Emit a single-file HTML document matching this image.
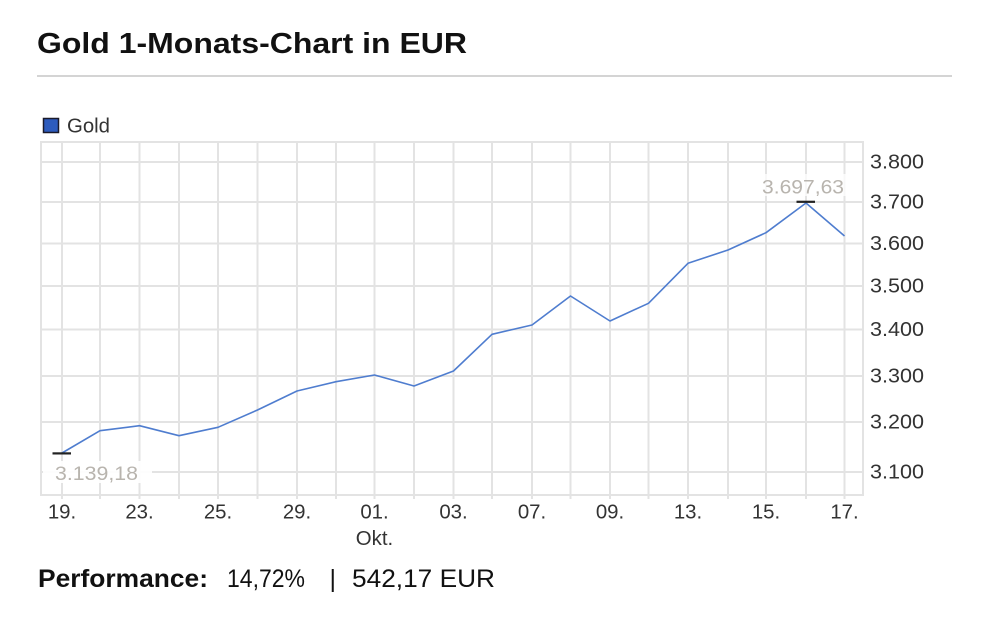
<!DOCTYPE html>
<html>
<head>
<meta charset="utf-8">
<style>
html,body{margin:0;padding:0;background:#fff;}
body{width:998px;height:634px;overflow:hidden;}
svg{display:block;}
text{font-family:"Liberation Sans",Arial,Helvetica,sans-serif;}
</style>
</head>
<body>
<svg width="998" height="634" viewBox="0 0 998 634" xmlns="http://www.w3.org/2000/svg">
  <!-- Title -->
  <text x="37" y="53" font-size="28.5" font-weight="bold" fill="#111" textLength="430" lengthAdjust="spacingAndGlyphs">Gold 1-Monats-Chart in EUR</text>
  <rect x="37" y="75" width="915" height="2" fill="#d4d4d4"/>

  <!-- Legend -->
  <rect x="43.5" y="118.5" width="15" height="14" fill="#2d5bbd" stroke="#1a1a2a" stroke-width="1.5"/>
  <text x="67" y="132.5" font-size="20" fill="#333" textLength="43" lengthAdjust="spacingAndGlyphs">Gold</text>

  <!-- Plot frame & grid -->
  <g stroke="#e3e3e3" stroke-width="2" fill="none">
    <line x1="41" y1="162" x2="863" y2="162"/>
    <line x1="41" y1="202" x2="863" y2="202"/>
    <line x1="41" y1="243.5" x2="863" y2="243.5"/>
    <line x1="41" y1="286" x2="863" y2="286"/>
    <line x1="41" y1="329.5" x2="863" y2="329.5"/>
    <line x1="41" y1="376" x2="863" y2="376"/>
    <line x1="41" y1="422" x2="863" y2="422"/>
    <line x1="41" y1="472" x2="863" y2="472"/>
    <line x1="62" y1="142" x2="62" y2="499"/>
    <line x1="100" y1="142" x2="100" y2="499"/>
    <line x1="139.5" y1="142" x2="139.5" y2="499"/>
    <line x1="179" y1="142" x2="179" y2="499"/>
    <line x1="218" y1="142" x2="218" y2="499"/>
    <line x1="257.5" y1="142" x2="257.5" y2="499"/>
    <line x1="297" y1="142" x2="297" y2="499"/>
    <line x1="336" y1="142" x2="336" y2="499"/>
    <line x1="374.5" y1="142" x2="374.5" y2="499"/>
    <line x1="414" y1="142" x2="414" y2="499"/>
    <line x1="453.5" y1="142" x2="453.5" y2="499"/>
    <line x1="492" y1="142" x2="492" y2="499"/>
    <line x1="532" y1="142" x2="532" y2="499"/>
    <line x1="570.5" y1="142" x2="570.5" y2="499"/>
    <line x1="610" y1="142" x2="610" y2="499"/>
    <line x1="648.5" y1="142" x2="648.5" y2="499"/>
    <line x1="688" y1="142" x2="688" y2="499"/>
    <line x1="728" y1="142" x2="728" y2="499"/>
    <line x1="766" y1="142" x2="766" y2="499"/>
    <line x1="806" y1="142" x2="806" y2="499"/>
    <line x1="844.5" y1="142" x2="844.5" y2="499"/>
    <rect x="41" y="142" width="822" height="353"/>
  </g>

  <!-- Min label background -->
  <rect x="43" y="461" width="109" height="22" fill="#fff" opacity="0.9"/>
  <!-- Max label background -->
  <rect x="757" y="174" width="90" height="22" fill="#fff" opacity="0.75"/>

  <!-- Series -->
  <polyline fill="none" stroke="#4f7dcf" stroke-width="1.6" stroke-linejoin="round"
    points="62,453 100,430.7 139.5,425.7 179,435.7 218,427.3 257.5,410 297,391 336,381.7 374.5,375 414,386 453.5,371 492,334.3 532,325 570.5,296 610,321 648.5,303.3 688,263.3 728,250 766,232.7 806,203 844.5,236"/>

  <!-- Markers -->
  <rect x="52.5" y="452.3" width="18.5" height="2.2" fill="#222"/>
  <rect x="796.5" y="200.7" width="18.5" height="2.2" fill="#222"/>

  <!-- Value labels -->
  <text x="55" y="480" font-size="19.5" fill="#b8b4ae" textLength="83" lengthAdjust="spacingAndGlyphs">3.139,18</text>
  <text x="762" y="193.3" font-size="19.5" fill="#b8b4ae" textLength="82" lengthAdjust="spacingAndGlyphs">3.697,63</text>

  <!-- Y axis labels -->
  <g font-size="20.5" fill="#333">
    <text x="870" y="168.5" textLength="54" lengthAdjust="spacingAndGlyphs">3.800</text>
    <text x="870" y="208.5" textLength="54" lengthAdjust="spacingAndGlyphs">3.700</text>
    <text x="870" y="250" textLength="54" lengthAdjust="spacingAndGlyphs">3.600</text>
    <text x="870" y="292.5" textLength="54" lengthAdjust="spacingAndGlyphs">3.500</text>
    <text x="870" y="336" textLength="54" lengthAdjust="spacingAndGlyphs">3.400</text>
    <text x="870" y="382.5" textLength="54" lengthAdjust="spacingAndGlyphs">3.300</text>
    <text x="870" y="428.5" textLength="54" lengthAdjust="spacingAndGlyphs">3.200</text>
    <text x="870" y="478.5" textLength="54" lengthAdjust="spacingAndGlyphs">3.100</text>
  </g>

  <!-- X axis labels -->
  <g font-size="20.4" fill="#333" text-anchor="middle">
    <text x="62" y="518.5">19.</text>
    <text x="139.5" y="518.5">23.</text>
    <text x="218" y="518.5">25.</text>
    <text x="297" y="518.5">29.</text>
    <text x="374.5" y="518.5">01.</text>
    <text x="374.5" y="545">Okt.</text>
    <text x="453.5" y="518.5">03.</text>
    <text x="532" y="518.5">07.</text>
    <text x="610" y="518.5">09.</text>
    <text x="688" y="518.5">13.</text>
    <text x="766" y="518.5">15.</text>
    <text x="844.5" y="518.5">17.</text>
  </g>

  <!-- Performance -->
  <text x="38" y="587" font-size="25" font-weight="bold" fill="#111" textLength="170" lengthAdjust="spacingAndGlyphs">Performance:</text>
  <text x="227" y="587" font-size="25" fill="#111" textLength="78" lengthAdjust="spacingAndGlyphs">14,72%</text>
  <text x="329.5" y="587" font-size="25" fill="#111">|</text>
  <text x="352" y="587" font-size="25" fill="#111" textLength="143" lengthAdjust="spacingAndGlyphs">542,17 EUR</text>
</svg>
</body>
</html>
